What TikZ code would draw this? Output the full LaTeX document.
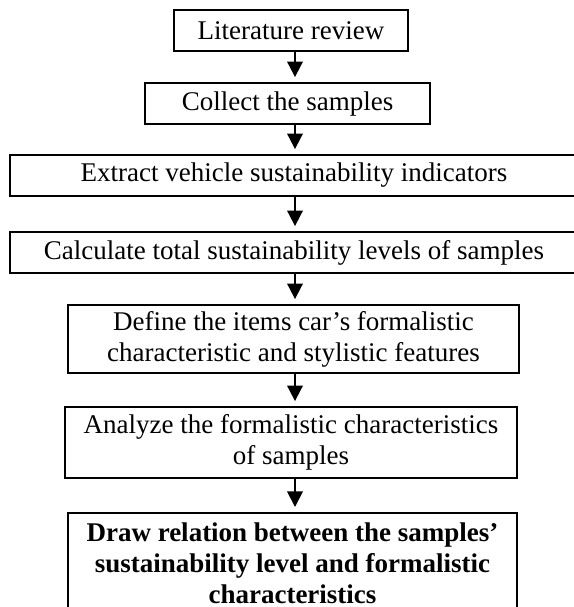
\documentclass[tikz,border=0pt]{standalone}
\usepackage{fontspec}
\setmainfont{Liberation Serif}
\usetikzlibrary{arrows.meta}
\tikzset{
  every node/.style={font=\fontsize{13.5}{15.5}\selectfont, text=black},
  stepbox/.style={rectangle, draw, line width=0.9pt, align=center,
    inner sep=0pt, minimum height=20.5pt},
  lastbox/.style={stepbox, font=\fontsize{13.5}{15.5}\selectfont\bfseries,
    inner ysep=5pt},
  flow/.style={-{Triangle[length=7.8pt,width=7.8pt]}, line width=0.9pt,
    shorten >=2.5pt},
}
\begin{document}
\begin{tikzpicture}[x=0.5pt,y=-0.5pt]
% page frame, the wide boxes and the last one run past it
\path[use as bounding box, clip] (0,0) rectangle (574,607);
\coordinate (axis) at (295,0);

% ---- Steps ---------------------------------------------------------------
\node[stepbox, minimum width=117pt] (lit) at (291,30.5) {Literature review};
\node[stepbox, minimum width=142.5pt] (col) at (287.5,103.5) {Collect the samples};
\node[stepbox, minimum width=284pt] (ext) at (294,175.5)
  {Extract vehicle sustainability indicators};
\node[stepbox, minimum width=284pt] (calc) at (294,252.5)
  {Calculate total sustainability levels of samples};
\node[stepbox, minimum width=225.5pt, minimum height=34pt] (def) at (293.5,339)
  {Define the items car's formalistic\\ characteristic and stylistic features};
\node[stepbox, minimum width=226pt, minimum height=35.5pt] (ana) at (291,442.5)
  {Analyze the formalistic characteristics\\ of samples};
\node[lastbox, minimum width=224.5pt, anchor=north] (rel) at (292.5,512)
  {Draw relation between the samples'\\ sustainability level and formalistic\\
   characteristics};

\foreach \a/\b in {lit/col,col/ext,ext/calc,calc/def,def/ana,ana/rel}
  \draw[flow] (\a.south -| axis) -- (\b.north -| axis);

\end{tikzpicture}
\end{document}
